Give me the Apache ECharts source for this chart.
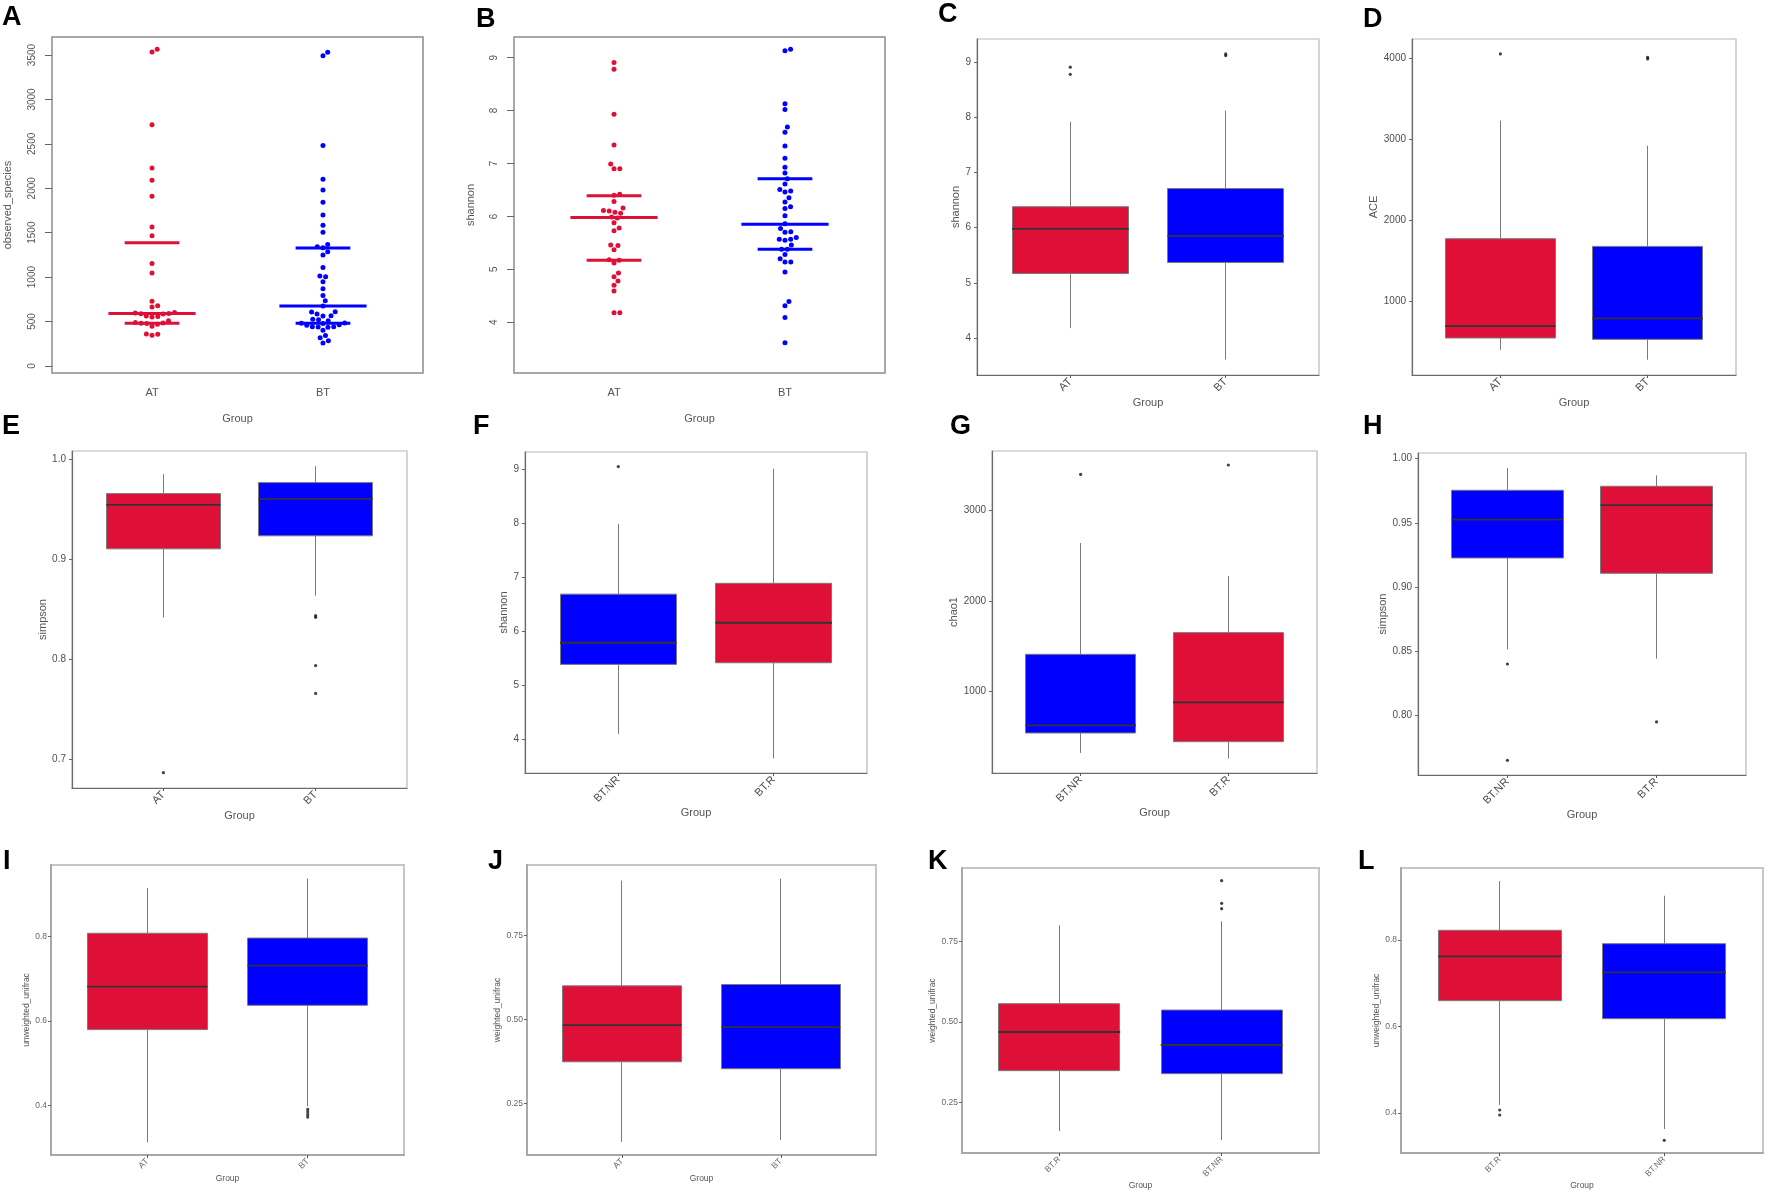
<!DOCTYPE html>
<html>
<head>
<meta charset="utf-8">
<script src="https://cdn.jsdelivr.net/npm/echarts@6/dist/echarts.min.js"></script>
<style>
  html, body { margin: 0; padding: 0; background: #fff; }
  #chart { width: 1772px; height: 1194px; }
</style>
</head>
<body>
<div id="chart"></div>
<script>
// 分组
const groupsATBT = ['AT', 'BT'];
const groupsNRR = ['BT.NR', 'BT.R'];
const groupsRNR = ['BT.R', 'BT.NR'];

// A: observed_species, one value per sample
const observedAT = [3564, 3534, 2714, 2229, 2090, 1910, 1564, 1466, 1154, 1045, 729, 677, 662, 602, 596, 590, 588, 584,
  562, 556, 550, 507, 488, 484, 480, 477, 470, 447, 360, 357, 346];
const observedBT = [3530, 3492, 2481, 2101, 1981, 1842, 1699, 1583, 1504, 1368, 1342, 1330, 1286, 1248, 1109, 1011, 1005,
  947, 868, 793, 733, 673, 609, 606, 583, 564, 562, 526, 520, 507, 484, 481, 478, 462, 457, 442, 440, 438, 436, 402, 342,
  316, 282, 259];
// Q1, median, Q3 bars
const observedBarsAT = [481, 590, 1387];
const observedBarsBT = [481, 673, 1327];

// B: shannon, one value per sample
const shannonAT = [8.91, 8.78, 7.93, 7.35, 6.99, 6.90, 6.90, 6.42, 6.40, 6.28, 6.16, 6.11, 6.10, 6.08, 6.06, 5.99, 5.97,
  5.88, 5.78, 5.73, 5.46, 5.45, 5.37, 5.18, 5.17, 5.12, 4.93, 4.86, 4.78, 4.70, 4.59, 4.18, 4.18];
const shannonBT = [9.16, 9.13, 8.13, 8.02, 7.69, 7.59, 7.33, 7.10, 6.93, 6.82, 6.71, 6.61, 6.51, 6.48, 6.46, 6.35, 6.27,
  6.18, 6.15, 6.01, 5.86, 5.77, 5.71, 5.70, 5.60, 5.57, 5.57, 5.55, 5.46, 5.38, 5.38, 5.28, 5.20, 5.14, 5.14, 4.95, 4.39,
  4.31, 4.09, 3.61];
const shannonBarsAT = [5.17, 5.98, 6.39];
const shannonBarsBT = [5.38, 5.85, 6.71];

// box plots: [min, Q1, median, Q3, max]
const shannonBoxAT = [4.18, 5.17, 5.98, 6.38, 7.92];
const shannonBoxBT = [3.61, 5.37, 5.85, 6.71, 8.12];
const shannonOutAT = [8.91, 8.78];
const shannonOutBT = [9.15, 9.12];

const aceBoxAT = [397, 542, 690, 1771, 3232];
const aceBoxBT = [273, 525, 785, 1676, 2923];
const aceOutAT = [4058];
const aceOutBT = [4017, 3996];

const simpsonBoxAT = [0.842, 0.9105, 0.9544, 0.9657, 0.985];
const simpsonBoxBT = [0.8637, 0.9235, 0.9604, 0.9767, 0.993];
const simpsonOutAT = [0.6867];
const simpsonOutBT = [0.8437, 0.842, 0.7938, 0.7659];

const shannonBoxNR = [4.09, 5.38, 5.78, 6.68, 7.98];
const shannonBoxR = [3.64, 5.41, 6.15, 6.88, 9.0];
const shannonOutNR = [9.04];
const shannonOutR = [];

const chaoBoxNR = [318, 539, 624, 1410, 2642];
const chaoBoxR = [255, 443, 878, 1650, 2277];
const chaoOutNR = [3402];
const chaoOutR = [3506];

const simpsonBoxNR = [0.8516, 0.9227, 0.9525, 0.9754, 0.9927];
const simpsonBoxR = [0.8444, 0.9108, 0.9639, 0.9785, 0.987];
const simpsonOutNR = [0.8402, 0.7652];
const simpsonOutR = [0.7951];

const unweightedBoxAT = [0.313, 0.580, 0.6817, 0.808, 0.9152];
const unweightedBoxBT = [0.3984, 0.6375, 0.7314, 0.7968, 0.9373];
const unweightedOutAT = [];
const unweightedOutBT = [0.391, 0.385, 0.379, 0.373];

const weightedBoxAT = [0.135, 0.374, 0.4831, 0.6002, 0.9137];
const weightedBoxBT = [0.141, 0.3532, 0.4772, 0.6042, 0.9196];

const weightedBoxR = [0.1608, 0.3486, 0.4689, 0.557, 0.8008];
const weightedBoxNR = [0.1328, 0.3392, 0.4284, 0.5373, 0.8133];
const weightedOutR = [];
const weightedOutNR = [0.9398, 0.8693, 0.8527];

const unweightedBoxR = [0.4185, 0.6597, 0.7622, 0.8224, 0.9364];
const unweightedBoxNR = [0.363, 0.6181, 0.7253, 0.7915, 0.9025];
const unweightedOutR = [0.4069, 0.3954];
const unweightedOutNR = [0.3368];

// tick labels
const ticksObserved = [0, 500, 1000, 1500, 2000, 2500, 3000, 3500];
const ticksShannon = [4, 5, 6, 7, 8, 9];
const ticksAce = [1000, 2000, 3000, 4000];
const ticksSimpson = [0.7, 0.8, 0.9, 1.0];
const ticksChao = [1000, 2000, 3000];
const ticksSimpson2 = [0.80, 0.85, 0.90, 0.95, 1.00];
const ticksUnweighted = [0.4, 0.6, 0.8];
const ticksWeighted = [0.25, 0.50, 0.75];

const RED = '#DF1038';
const BLUE = '#0000FF';
const groupColor = { 'AT': RED, 'BT': BLUE, 'BT.R': RED, 'BT.NR': BLUE };
const FONT = '"Liberation Sans", Arial, Helvetica, sans-serif';

// 三种坐标轴风格：R base / ggplot / ggplot 小字
const themes = {
  base: { border: '#8c8c8c', borderWidth: 1.5, axisLine: false, axisColor: '#8c8c8c', axisWidth: 1.5,
    yRotate: 90, yMargin: 15, tickLen: 7, xTicks: false, xRotate: 0, xMargin: 14,
    labelSize: 10, nameSize: 11, labelColor: '#555' },
  gg: { border: '#b8b8b8', borderWidth: 1.2, axisLine: true, axisColor: '#6b6b6b', axisWidth: 1.2,
    yRotate: 0, yMargin: 6, tickLen: 3, xTicks: true, xRotate: 45, xMargin: 5,
    labelSize: 10, nameSize: 11, labelColor: '#4d4d4d' },
  ggs: { border: '#c6c6c6', borderWidth: 2, axisLine: true, axisColor: '#a8a8a8', axisWidth: 2,
    yRotate: 0, yMargin: 4, tickLen: 3, xTicks: true, xRotate: 45, xMargin: 5,
    labelSize: 8.5, nameSize: 8.5, labelColor: '#666' }
};

const panels = [
  { letter: 'A', at: [2, 4], kind: 'swarm', theme: 'base', grid: [52, 37, 371, 336], xr: [0.415, 2.585], yr: [-80, 3703],
    ticks: ticksObserved, dec: 0, ytitle: 'observed_species', yGap: 39, xGap: 40, cats: groupsATBT,
    points: [observedAT, observedBT], bars: [observedBarsAT, observedBarsBT] },
  { letter: 'B', at: [476, 6], kind: 'swarm', theme: 'base', grid: [514, 37, 371, 336], xr: [0.415, 2.585], yr: [3.04, 9.39],
    ticks: ticksShannon, dec: 0, ytitle: 'shannon', yGap: 38, xGap: 40, cats: groupsATBT,
    points: [shannonAT, shannonBT], bars: [shannonBarsAT, shannonBarsBT] },
  { letter: 'C', at: [938, 1], kind: 'box', theme: 'gg', grid: [977, 39, 342, 336], xr: [0.4, 2.6], yr: [3.33, 9.42],
    ticks: ticksShannon, dec: 0, ytitle: 'shannon', yGap: 11, xGap: 22, cats: groupsATBT,
    boxes: [shannonBoxAT, shannonBoxBT], outliers: [shannonOutAT, shannonOutBT] },
  { letter: 'D', at: [1363, 6], kind: 'box', theme: 'gg', grid: [1412, 39, 324, 336], xr: [0.4, 2.6], yr: [84, 4243],
    ticks: ticksAce, dec: 0, ytitle: 'ACE', yGap: 29, xGap: 22, cats: groupsATBT,
    boxes: [aceBoxAT, aceBoxBT], outliers: [aceOutAT, aceOutBT] },
  { letter: 'E', at: [2, 413], kind: 'box', theme: 'gg', grid: [72, 451, 335, 337], xr: [0.4, 2.6], yr: [0.6714, 1.0083],
    ticks: ticksSimpson, dec: 1, ytitle: 'simpson', yGap: 19, xGap: 22, cats: groupsATBT,
    boxes: [simpsonBoxAT, simpsonBoxBT], outliers: [simpsonOutAT, simpsonOutBT] },
  { letter: 'F', at: [473, 413], kind: 'box', theme: 'gg', grid: [525, 452, 342, 321], xr: [0.4, 2.6], yr: [3.37, 9.31],
    ticks: ticksShannon, dec: 0, ytitle: 'shannon', yGap: 11, xGap: 34, cats: groupsNRR,
    boxes: [shannonBoxNR, shannonBoxR], outliers: [shannonOutNR, shannonOutR] },
  { letter: 'G', at: [950, 413], kind: 'box', theme: 'gg', grid: [992, 451, 325, 322], xr: [0.4, 2.6], yr: [96, 3661],
    ticks: ticksChao, dec: 0, ytitle: 'chao1', yGap: 29, xGap: 34, cats: groupsNRR,
    boxes: [chaoBoxNR, chaoBoxR], outliers: [chaoOutNR, chaoOutR] },
  { letter: 'H', at: [1363, 413], kind: 'box', theme: 'gg', grid: [1418, 453, 328, 322], xr: [0.4, 2.6], yr: [0.7538, 1.0044],
    ticks: ticksSimpson2, dec: 2, ytitle: 'simpson', yGap: 25, xGap: 33, cats: groupsNRR,
    boxes: [simpsonBoxNR, simpsonBoxR], outliers: [simpsonOutNR, simpsonOutR] },
  { letter: 'I', at: [3, 848], kind: 'box', theme: 'ggs', grid: [51, 865, 353, 290], xr: [0.4, 2.6], yr: [0.2832, 0.9696],
    ticks: ticksUnweighted, dec: 1, ytitle: 'unweighted_unifrac', yGap: 14, xGap: 16, cats: groupsATBT,
    boxes: [unweightedBoxAT, unweightedBoxBT], outliers: [unweightedOutAT, unweightedOutBT] },
  { letter: 'J', at: [488, 848], kind: 'box', theme: 'ggs', grid: [527, 865, 349, 290], xr: [0.4, 2.6], yr: [0.0962, 0.9603],
    ticks: ticksWeighted, dec: 2, ytitle: 'weighted_unifrac', yGap: 19, xGap: 16, cats: groupsATBT,
    boxes: [weightedBoxAT, weightedBoxBT], outliers: [[], []] },
  { letter: 'K', at: [928, 848], kind: 'box', theme: 'ggs', grid: [962, 868, 357, 285], xr: [0.4, 2.6], yr: [0.0923, 0.9793],
    ticks: ticksWeighted, dec: 2, ytitle: 'weighted_unifrac', yGap: 20, xGap: 25, cats: groupsRNR,
    boxes: [weightedBoxR, weightedBoxNR], outliers: [weightedOutR, weightedOutNR] },
  { letter: 'L', at: [1358, 848], kind: 'box', theme: 'ggs', grid: [1401, 868, 362, 285], xr: [0.4, 2.6], yr: [0.3075, 0.9665],
    ticks: ticksUnweighted, dec: 1, ytitle: 'unweighted_unifrac', yGap: 14, xGap: 25, cats: groupsRNR,
    boxes: [unweightedBoxR, unweightedBoxNR], outliers: [unweightedOutR, unweightedOutNR] }
];

// 蜂群图布局：按数值从小到大放点，尽量靠近中线且不重叠
function swarm(values, center, pxPerX, pxPerY, d) {
  const order = values.map((v, i) => i).sort((a, b) => values[a] - values[b]);
  const placed = [];
  const out = new Array(values.length);
  order.forEach(i => {
    const y = values[i] * pxPerY;
    const cands = [0];
    placed.forEach(p => {
      const dy = Math.abs(p.y - y);
      if (dy < d) {
        const dx = Math.sqrt(d * d - dy * dy);
        cands.push(p.x + dx, p.x - dx);
      }
    });
    cands.sort((a, b) => Math.abs(a) - Math.abs(b) || b - a);
    const x = cands.find(c => placed.every(p => (p.x - c) * (p.x - c) + (p.y - y) * (p.y - y) >= d * d - 1e-6));
    placed.push({ x, y });
    out[i] = [center + x / pxPerX, values[i]];
  });
  return out;
}

// 横线（中位数 / 四分位）
function renderBar(params, api) {
  const x = api.value(0), v = api.value(1), hw = api.value(2);
  const p1 = api.coord([x - hw, v]);
  const p2 = api.coord([x + hw, v]);
  return {
    type: 'line',
    shape: { x1: p1[0], y1: p1[1], x2: p2[0], y2: p2[1] },
    style: { stroke: api.visual('color'), lineWidth: api.value(3) }
  };
}

const option = {
  animation: false,
  backgroundColor: '#fff',
  textStyle: { fontFamily: FONT },
  grid: [], xAxis: [], yAxis: [], series: [], graphic: []
};

panels.forEach((p, i) => {
  const [l, t, w, h] = p.grid;
  const th = themes[p.theme];
  const xs = p.cats.map((c, k) => k + 1);
  const nameStyle = { fontSize: th.nameSize, color: '#555', fontFamily: FONT };
  const axisLine = { show: th.axisLine, onZero: false, lineStyle: { color: th.axisColor, width: th.axisWidth } };

  option.grid.push({ left: l, top: t, width: w, height: h, show: true, borderColor: th.border, borderWidth: th.borderWidth });
  option.xAxis.push({
    gridIndex: i, type: 'value', min: p.xr[0], max: p.xr[1],
    name: 'Group', nameLocation: 'middle', nameGap: p.xGap, nameTextStyle: nameStyle,
    axisLine: axisLine,
    axisTick: { show: th.xTicks, customValues: xs, length: th.tickLen, lineStyle: { color: '#555' } },
    axisLabel: { customValues: xs, formatter: v => p.cats[Math.round(v) - 1], rotate: th.xRotate, margin: th.xMargin,
      fontSize: th.nameSize, color: th.labelColor, fontFamily: FONT },
    splitLine: { show: false }
  });
  option.yAxis.push({
    gridIndex: i, type: 'value', min: p.yr[0], max: p.yr[1],
    name: p.ytitle, nameLocation: 'middle', nameGap: p.yGap, nameTextStyle: nameStyle,
    axisLine: axisLine,
    axisTick: { show: true, customValues: p.ticks, length: th.tickLen, lineStyle: { color: '#666' } },
    axisLabel: { customValues: p.ticks, formatter: v => v.toFixed(p.dec), rotate: th.yRotate, margin: th.yMargin,
      fontSize: th.labelSize, color: th.labelColor, fontFamily: FONT },
    splitLine: { show: false }
  });

  if (p.kind === 'swarm') {
    const pxPerX = w / (p.xr[1] - p.xr[0]);
    const pxPerY = h / (p.yr[1] - p.yr[0]);
    p.cats.forEach((c, k) => {
      option.series.push({
        type: 'scatter', xAxisIndex: i, yAxisIndex: i, symbolSize: 5,
        itemStyle: { color: groupColor[c], opacity: 1 },
        data: swarm(p.points[k], k + 1, pxPerX, pxPerY, 5.8)
      });
    });
    const bars = [];
    p.cats.forEach((c, k) => {
      p.bars[k].forEach((v, j) => {
        bars.push({ value: [k + 1, v, j === 1 ? 0.255 : 0.16, 3], itemStyle: { color: groupColor[c] } });
      });
    });
    option.series.push({ type: 'custom', xAxisIndex: i, yAxisIndex: i, renderItem: renderBar, data: bars, clip: false, z: 5 });
  } else {
    const boxPx = w / (p.xr[1] - p.xr[0]) * 0.75;
    option.series.push({
      type: 'candlestick', xAxisIndex: i, yAxisIndex: i, barWidth: boxPx,
      data: p.cats.map((c, k) => {
        const b = p.boxes[k];
        return {
          value: [k + 1, b[1], b[3], b[0], b[4]],
          itemStyle: { color: groupColor[c], color0: groupColor[c], borderColor: '#7a7a7a', borderColor0: '#7a7a7a', borderWidth: 1 }
        };
      })
    });
    option.series.push({
      type: 'custom', xAxisIndex: i, yAxisIndex: i, renderItem: renderBar, clip: false, z: 5,
      itemStyle: { color: '#333' },
      data: p.cats.map((c, k) => [k + 1, p.boxes[k][2], 0.375, 1.8])
    });
    const outs = [];
    p.cats.forEach((c, k) => p.outliers[k].forEach(v => outs.push([k + 1, v])));
    option.series.push({
      type: 'scatter', xAxisIndex: i, yAxisIndex: i, symbolSize: 3.2, z: 6,
      itemStyle: { color: '#111' }, data: outs
    });
  }

  option.graphic.push({
    type: 'text', left: p.at[0], top: p.at[1],
    style: { text: p.letter, font: 'bold 27px ' + FONT, fill: '#000' }
  });
});

const myChart = echarts.init(document.getElementById('chart'));
myChart.setOption(option);
window.addEventListener('resize', function () {
  myChart.resize();
});
</script>
</body>
</html>
